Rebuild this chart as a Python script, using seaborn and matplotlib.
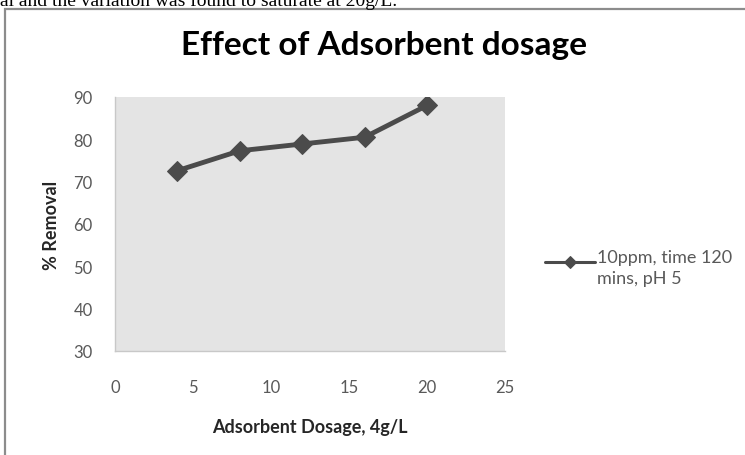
import numpy as np
import pandas as pd
import matplotlib
matplotlib.use("Agg")
import matplotlib.pyplot as plt
import seaborn as sns
from matplotlib.patches import Rectangle

# data
dosage = [4, 8, 12, 16, 20]
removal = [72.6, 77.3, 78.9, 80.5, 88.0]
series_label = "10ppm, time 120\nmins, pH 5"
x_ticks = [0, 5, 10, 15, 20, 25]
y_ticks = [30, 40, 50, 60, 70, 80, 90]

df = pd.DataFrame({"dosage": dosage, "removal": removal, "series": series_label})

sns.set_theme(style="white")
plt.rcParams["font.family"] = ["Lato", "DejaVu Sans"]

fig = plt.figure(figsize=(7.45, 4.56), dpi=100)

# page text cut off above the chart
fig.text(0.0, 1 - 6 / 456, "al and the variation was found to saturate at 20g/L.",
         family=["Liberation Serif"], fontsize=14, color="black", va="baseline", ha="left")

# chart frame
frame = Rectangle((5 / 745, -0.1), 1.0, 1 - 10 / 456 + 0.1, transform=fig.transFigure,
                  facecolor="white", edgecolor="#8c8c8c", linewidth=1.6, zorder=-5)
fig.patches.append(frame)

ax = fig.add_axes([115 / 745, 1 - 352 / 456, 390 / 745, 254 / 456])
ax.set_zorder(1)
ax.set_facecolor("#e4e4e4")

sns.lineplot(data=df, x="dosage", y="removal", hue="series", palette=["#4b4b4b"],
             marker="D", markersize=10.5, linewidth=3.5, markeredgecolor="#4b4b4b", ax=ax)

ax.set_xlim(0, 25)
ax.set_ylim(30, 90)
ax.set_xticks(x_ticks)
ax.set_yticks(y_ticks)
ax.tick_params(axis="x", length=0, pad=20, labelsize=12, labelcolor="#595959")
ax.tick_params(axis="y", length=0, pad=16, labelsize=12, labelcolor="#595959")

for side in ["top", "right"]:
    ax.spines[side].set_visible(False)
for side in ["left", "bottom"]:
    ax.spines[side].set_color("#c8c8c8")
    ax.spines[side].set_linewidth(1.0)

ax.set_xlabel("Adsorbent Dosage, 4g/L", fontsize=13, fontweight="bold", color="#262626", labelpad=17)
ax.set_ylabel("% Removal", fontsize=13, fontweight="bold", color="#262626", labelpad=10)

fig.text(384 / 745, 1 - 45 / 456, "Effect of Adsorbent dosage", fontsize=24,
         fontweight="bold", color="black", ha="center", va="center")

leg = ax.legend(loc="center left", bbox_to_anchor=(1.06, 0.325), frameon=False,
                fontsize=13, handlelength=2.8, handleheight=2.8, handletextpad=0.1,
                labelcolor="#595959")
for h in leg.legend_handles:
    h.set_linewidth(2.2)
    h.set_markersize(6)
for t in leg.get_texts():
    t.set_linespacing(1.4)

plt.savefig("out.png", dpi=100)
